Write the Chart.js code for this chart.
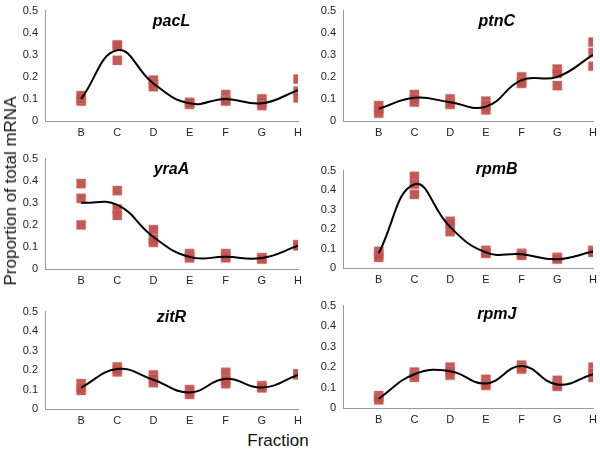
<!DOCTYPE html>
<html>
<head>
<meta charset="utf-8">
<script src="https://cdn.jsdelivr.net/npm/chart.js@4.4.1/dist/chart.umd.min.js"></script>
<style>
  body { margin: 0; background: #fff; }
  #wrap { position: relative; width: 600px; height: 450px; font-family: "Liberation Sans", Arial, sans-serif; }
  canvas { position: absolute; }
  .ytitle { position: absolute; left: 11px; top: 191px; transform: translate(-50%, -50%) rotate(-90deg); font-size: 17px; white-space: nowrap; color: #111; }
  .xtitle { position: absolute; left: 278px; top: 441px; transform: translate(-50%, -50%); font-size: 17px; color: #111; }
</style>
</head>
<body>
<div id="wrap">
  <canvas id="pacL"></canvas>
  <canvas id="ptnC"></canvas>
  <canvas id="yraA"></canvas>
  <canvas id="rpmB"></canvas>
  <canvas id="zitR"></canvas>
  <canvas id="rpmJ"></canvas>
  <div class="ytitle">Proportion of total mRNA</div>
  <div class="xtitle">Fraction</div>
</div>
<script>
// fractions (first slot left empty, as in the original axis)
const fractions = ['', 'B', 'C', 'D', 'E', 'F', 'G', 'H']

// three replicates per fraction B..H
const pacL = [[0.09,0.10,0.115],[0.34,0.345,0.275],[0.185,0.17,0.155],[0.075,0.085,0.08],[0.12,0.095,0.09],[0.10,0.085,0.07],[0.19,0.135,0.105]]
const ptnC = [[0.07,0.05,0.035],[0.12,0.10,0.085],[0.10,0.085,0.075],[0.09,0.07,0.05],[0.20,0.18,0.17],[0.235,0.215,0.16],[0.357,0.31,0.248]]
const yraA = [[0.387,0.32,0.20],[0.355,0.272,0.243],[0.178,0.135,0.12],[0.07,0.06,0.05],[0.07,0.06,0.05],[0.052,0.05,0.045],[0.109,0.11,0.105]]
const rpmB = [[0.085,0.07,0.055],[0.47,0.43,0.378],[0.24,0.228,0.187],[0.09,0.08,0.075],[0.075,0.07,0.065],[0.055,0.05,0.045],[0.09,0.085,0.08]]
const zitR = [[0.13,0.11,0.095],[0.216,0.19,0.20],[0.175,0.155,0.135],[0.10,0.09,0.075],[0.188,0.146,0.13],[0.12,0.11,0.11],[0.18,0.175,0.18]]
const rpmJ = [[0.06,0.05,0.04],[0.175,0.16,0.15],[0.20,0.18,0.16],[0.14,0.12,0.11],[0.21,0.20,0.19],[0.135,0.115,0.105],[0.20,0.15,0.17]]

// smoothed trend line through each fraction
const pacLLine = [0.10,0.32,0.17,0.08,0.10,0.08,0.14]
const ptnCLine = [0.055,0.105,0.085,0.065,0.185,0.20,0.30]
const yraALine = [0.30,0.29,0.145,0.055,0.055,0.05,0.105]
const rpmBLine = [0.075,0.43,0.21,0.08,0.07,0.045,0.085]
const zitRLine = [0.11,0.205,0.15,0.085,0.155,0.11,0.175]
const rpmJLine = [0.045,0.165,0.18,0.12,0.205,0.115,0.165]

const yTicks = [0, 0.1, 0.2, 0.3, 0.4, 0.5]

// canvas placement
const panels = [
  {id:'pacL', reps:pacL, line:pacLLine, left:0,   top:0,   w:305, h:141, axisW:45, pr:6, tx:0.5,   ty:0.448},
  {id:'ptnC', reps:ptnC, line:ptnCLine, left:300, top:0,   w:300, h:141, axisW:43, pr:5, tx:0.615, ty:0.448},
  {id:'yraA', reps:yraA, line:yraALine, left:0,   top:148, w:305, h:141, axisW:45, pr:6, tx:0.5,   ty:0.452},
  {id:'rpmB', reps:rpmB, line:rpmBLine, left:300, top:160, w:300, h:128, axisW:43, pr:5, tx:0.615, ty:0.505},
  {id:'zitR', reps:zitR, line:zitRLine, left:0,   top:301, w:305, h:128, axisW:45, pr:6, tx:0.5,   ty:0.47},
  {id:'rpmJ', reps:rpmJ, line:rpmJLine, left:300, top:295, w:300, h:133, axisW:43, pr:5, tx:0.615, ty:0.458},
]

const geneName = {
  id: 'geneName',
  afterDraw(chart, args, opts) {
    const {ctx, chartArea, scales} = chart
    ctx.save()
    ctx.font = 'italic bold 16px "Liberation Sans", Arial, sans-serif'
    ctx.fillStyle = '#000'
    ctx.textAlign = 'center'
    ctx.textBaseline = 'middle'
    ctx.fillText(opts.text, chartArea.left + opts.x * chartArea.width, scales.y.getPixelForValue(opts.y))
    ctx.restore()
  }
}

panels.forEach(p => {
  const el = document.getElementById(p.id)
  el.style.left = p.left + 'px'
  el.style.top = p.top + 'px'
  el.style.width = p.w + 'px'
  el.style.height = p.h + 'px'
  el.width = p.w
  el.height = p.h

  const pts = []
  p.reps.forEach((vals, i) => vals.forEach(v => pts.push({x: i + 1, y: v})))

  new Chart(el, {
    type: 'scatter',
    data: {
      datasets: [{
        type: 'line',
        data: p.line.map((v, i) => ({x: i + 1, y: v})),
        borderColor: '#000',
        borderWidth: 2,
        pointRadius: 0,
        tension: 0.45,
        fill: false,
        order: 1
      }, {
        data: pts,
        pointStyle: 'rect',
        pointRadius: 6.5,
        backgroundColor: 'rgba(192,80,77,0.95)',
        borderColor: 'rgba(220,130,125,0.9)',
        borderWidth: 0.5,
        order: 2
      }]
    },
    options: {
      responsive: false,
      animation: false,
      layout: {padding: {top: 6, right: p.pr, left: 0, bottom: 0}},
      plugins: {
        legend: {display: false},
        tooltip: {enabled: false},
        geneName: {text: p.id, x: p.tx, y: p.ty}
      },
      scales: {
        x: {
          type: 'linear',
          min: 0,
          max: 7,
          afterFit: s => { s.height = 20 },
          afterBuildTicks: s => { s.ticks = fractions.map((f, i) => ({value: i})) },
          grid: {display: false, drawTicks: true, tickLength: 3, color: '#999'},
          border: {color: '#999'},
          ticks: {
            callback: v => fractions[v],
            color: '#222',
            font: {family: '"Liberation Sans", Arial, sans-serif', size: 11},
            maxRotation: 0,
            autoSkip: false,
            padding: 2
          }
        },
        y: {
          min: 0,
          max: 0.5,
          afterFit: s => { s.width = p.axisW },
          afterBuildTicks: s => { s.ticks = yTicks.map(v => ({value: v})) },
          grid: {display: false, tickLength: 3, color: '#999'},
          border: {color: '#999'},
          ticks: {
            callback: v => v === 0 ? '0' : v.toFixed(1),
            color: '#222',
            font: {family: '"Liberation Sans", Arial, sans-serif', size: 11},
            padding: 4
          }
        }
      }
    },
    plugins: [geneName]
  })
})
</script>
</body>
</html>
